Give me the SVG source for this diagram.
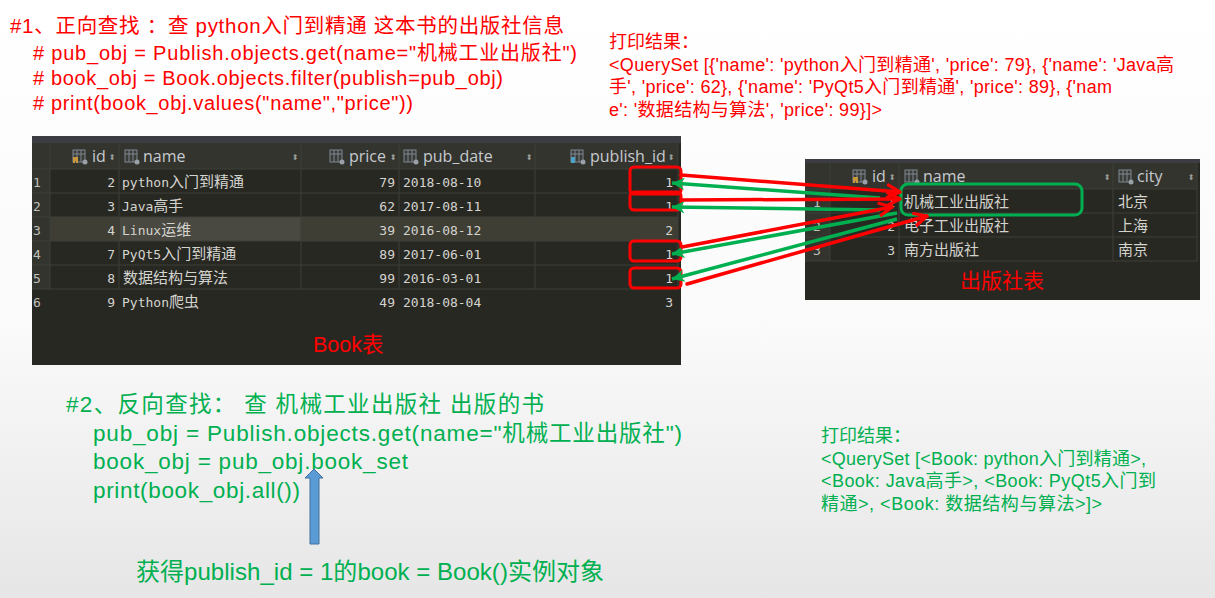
<svg xmlns="http://www.w3.org/2000/svg" width="1215" height="598" viewBox="0 0 1215 598">
<style>
.r{fill:#ff0000;font-family:"Liberation Sans","Noto Sans CJK SC",sans-serif}
.g{fill:#00b050;font-family:"Liberation Sans","Noto Sans CJK SC",sans-serif}
.h{fill:#c6cad0;font-family:"Open Sans","Liberation Sans",sans-serif;font-size:16px}
.c{fill:#d4d4cf;font-family:"DejaVu Sans Mono","Noto Sans CJK SC",monospace;font-size:13px}
.c tspan{font-size:15px;font-family:"Noto Sans CJK SC",sans-serif}
.e{text-anchor:end}
.n{fill:#c0c2bc}
.grid{stroke:#3d3e38;stroke-width:1;fill:none}
.ic{fill:#3a3c38;stroke:#7f8791;stroke-width:1}
.lr{stroke:#ff0000;stroke-width:3.5;fill:none;stroke-linecap:round;stroke-linejoin:round}
.lg{stroke:#00b050;stroke-width:3.5;fill:none}
.box{fill:none;stroke:#ff0000;stroke-width:3}
.so{fill:#9a9c98;font-family:"DejaVu Sans",sans-serif;font-size:8px}
</style>
<defs>
<linearGradient id="bg" x1="0" y1="0" x2="0" y2="1"><stop offset="0" stop-color="#ffffff"/><stop offset="0.55" stop-color="#fafafa"/><stop offset="1" stop-color="#e6e6e6"/></linearGradient>
<marker id="ar" viewBox="0 0 12 12" refX="11" refY="6" markerWidth="16" markerHeight="16" markerUnits="userSpaceOnUse" orient="auto"><path d="M1 1L11 6L1 11" fill="none" stroke="#ff0000" stroke-width="2.4"/></marker>
<marker id="ag" viewBox="0 0 12 12" refX="11" refY="6" markerWidth="15" markerHeight="15" markerUnits="userSpaceOnUse" orient="auto"><path d="M1 1L11 6L1 11L4 6Z" fill="#00b050"/></marker>
<g id="tic"><rect class="ic" x="0" y="0" width="12" height="12"/><path d="M0 4H12M4 0V12M8 0V12" stroke="#7f8791" stroke-width="1" fill="none"/><circle cx="12" cy="12" r="2.5" fill="#9aa0a8"/></g>
</defs>
<rect id="background" width="1215" height="598" fill="url(#bg)"/>

<g id="query-forward">
<text class="r" x="10" y="33" font-size="20.5" textLength="554">#1、正向查找 ：查 python入门到精通 这本书的出版社信息</text>
<text class="r" x="33" y="60" font-size="20" textLength="544">  # pub_obj = Publish.objects.get(name="机械工业出版社")</text>
<text class="r" x="33" y="85" font-size="20" textLength="470"># book_obj = Book.objects.filter(publish=pub_obj)</text>
<text class="r" x="33" y="110" font-size="20" textLength="380"># print(book_obj.values("name","price"))</text>
</g>
<g id="result-forward">
<text class="r" x="609" y="48" font-size="18">打印结果：</text>
<text class="r" x="609" y="71" font-size="18" textLength="565">&lt;QuerySet [{'name': 'python入门到精通', 'price': 79}, {'name': 'Java高</text>
<text class="r" x="609" y="93" font-size="18" textLength="503">手', 'price': 62}, {'name': 'PyQt5入门到精通', 'price': 89}, {'nam</text>
<text class="r" x="609" y="116" font-size="18" textLength="273">e': '数据结构与算法', 'price': 99}]&gt;</text>
</g>

<g id="book-table">
<rect x="32" y="136" width="649" height="229" fill="#282823"/>
<rect x="32" y="136" width="649" height="7" fill="#3b3d42"/>
<rect x="32" y="143" width="646" height="26" fill="#33342e"/>
<rect x="32" y="169" width="18" height="120" fill="#33342e"/>
<rect x="50" y="217" width="628" height="24" fill="#3e3e34"/>
<rect x="120" y="217" width="181" height="24" fill="#494942"/>
<path class="grid" d="M32 169H678M32 193H678M32 217H678M32 241H678M32 265H678M32 289H678M50 143V289M119 143V289M301 143V289M399 143V289M535 143V289M678 143V289"/>
<use href="#tic" x="73" y="150"/><use href="#tic" x="125" y="150"/><use href="#tic" x="330" y="150"/><use href="#tic" x="404" y="150"/><use href="#tic" x="571" y="150"/>
<path d="M73 157h5v6h-2v-2h-1v2h-2z" fill="#c8973a"/>
<path d="M571 157h4v6h-4z" fill="#4ca3c7"/>
<text class="h" x="92" y="162">id</text><text class="h" x="143" y="162">name</text><text class="h" x="349" y="162">price</text><text class="h" x="423" y="162">pub_date</text><text class="h" x="590" y="162">publish_id</text>
<text class="so" x="109" y="160">⬍</text><text class="so" x="292" y="160">⬍</text><text class="so" x="390" y="160">⬍</text><text class="so" x="526" y="160">⬍</text><text class="so" x="668" y="160">⬍</text>
<g class="c">
<text class="c n" x="33" y="187">1</text><text class="c n" x="33" y="211">2</text><text class="c n" x="33" y="235">3</text><text class="c n" x="33" y="259">4</text><text class="c n" x="33" y="283">5</text><text class="c n" x="33" y="307">6</text>
<text class="c e" x="115" y="187">2</text><text class="c e" x="115" y="211">3</text><text class="c e" x="115" y="235">4</text><text class="c e" x="115" y="259">7</text><text class="c e" x="115" y="283">8</text><text class="c e" x="115" y="307">9</text>
<text class="c" x="122" y="187">python<tspan>入门到精通</tspan></text>
<text class="c" x="122" y="211">Java<tspan>高手</tspan></text>
<text class="c" x="122" y="235">Linux<tspan>运维</tspan></text>
<text class="c" x="122" y="259">PyQt5<tspan>入门到精通</tspan></text>
<text class="c" x="123" y="283"><tspan>数据结构与算法</tspan></text>
<text class="c" x="122" y="307">Python<tspan>爬虫</tspan></text>
<text class="c e" x="395" y="187">79</text><text class="c e" x="395" y="211">62</text><text class="c e" x="395" y="235">39</text><text class="c e" x="395" y="259">89</text><text class="c e" x="395" y="283">99</text><text class="c e" x="395" y="307">49</text>
<text class="c" x="403" y="187">2018-08-10</text><text class="c" x="403" y="211">2017-08-11</text><text class="c" x="403" y="235">2016-08-12</text><text class="c" x="403" y="259">2017-06-01</text><text class="c" x="403" y="283">2016-03-01</text><text class="c" x="403" y="307">2018-08-04</text>
<text class="c e" x="673" y="187">1</text><text class="c e" x="673" y="211">1</text><text class="c e" x="673" y="235">2</text><text class="c e" x="673" y="259">1</text><text class="c e" x="673" y="283">1</text><text class="c e" x="673" y="307">3</text>
</g>
<text class="r" x="313" y="352" font-size="21.5">Book表</text>
</g>

<g id="publish-table">
<rect x="805" y="159" width="395" height="141" fill="#282823"/>
<rect x="805" y="159" width="395" height="4" fill="#3b3d42"/>
<rect x="805" y="163" width="392" height="26" fill="#33342e"/>
<rect x="805" y="189" width="25" height="72" fill="#33342e"/>
<path class="grid" d="M805 189H1197M805 213H1197M805 237H1197M805 261H1197M830 163V261M899 163V261M1113 163V261M1197 163V261"/>
<use href="#tic" x="853" y="170"/><use href="#tic" x="905" y="170"/><use href="#tic" x="1119" y="170"/>
<path d="M853 177h5v6h-2v-2h-1v2h-2z" fill="#c8973a"/>
<text class="h" x="872" y="182">id</text><text class="h" x="923" y="182">name</text><text class="h" x="1137" y="182">city</text>
<text class="so" x="889" y="180">⬍</text><text class="so" x="1104" y="180">⬍</text><text class="so" x="1188" y="180">⬍</text>
<text class="c n" x="813" y="207">1</text><text class="c n" x="813" y="231">2</text><text class="c n" x="813" y="255">3</text>
<text class="c e" x="895" y="207">1</text><text class="c e" x="895" y="231">2</text><text class="c e" x="895" y="255">3</text>
<text class="c" x="904" y="207"><tspan>机械工业出版社</tspan></text><text class="c" x="904" y="231"><tspan>电子工业出版社</tspan></text><text class="c" x="904" y="255"><tspan>南方出版社</tspan></text>
<text class="c" x="1118" y="207"><tspan>北京</tspan></text><text class="c" x="1118" y="231"><tspan>上海</tspan></text><text class="c" x="1118" y="255"><tspan>南京</tspan></text>
<text class="r" x="960" y="288" font-size="21">出版社表</text>
</g>

<g id="highlights">
<rect class="box" x="630" y="167" width="51" height="27" rx="4"/>
<rect class="box" x="630" y="192" width="51" height="18" rx="4"/>
<rect class="box" x="630" y="241" width="51" height="20" rx="4"/>
<rect class="box" x="630" y="268" width="51" height="20" rx="4"/>
<rect x="901" y="184" width="181" height="31" rx="7" fill="none" stroke="#00b050" stroke-width="3"/>
</g>

<g id="connectors">
<line class="lg" x1="880" y1="198" x2="672" y2="183" marker-end="url(#ag)"/>
<line class="lg" x1="880" y1="210" x2="672" y2="207" marker-end="url(#ag)"/>
<line class="lg" x1="897" y1="213" x2="672" y2="254" marker-end="url(#ag)"/>
<line class="lg" x1="897" y1="219" x2="672" y2="279" marker-end="url(#ag)"/>
<line class="lr" x1="681" y1="175" x2="900" y2="192" marker-end="url(#ar)"/>
<line class="lr" x1="682" y1="200" x2="900" y2="199" marker-end="url(#ar)"/>
<line class="lr" x1="682" y1="247" x2="892" y2="207" marker-end="url(#ar)"/>
<line class="lr" x1="687" y1="284" x2="927" y2="216" marker-end="url(#ar)"/>
<path id="up-arrow" d="M310 544V478H305L314 469L323 478H319V544Z" fill="#5b9bd5" stroke="#41719c" stroke-width="1"/>
</g>

<g id="query-reverse">
<text class="g" x="66" y="412" font-size="22.5" textLength="478">#2、反向查找： 查 机械工业出版社 出版的书</text>
<text class="g" x="93" y="441" font-size="22.5" textLength="589">pub_obj = Publish.objects.get(name="机械工业出版社")</text>
<text class="g" x="93" y="469" font-size="22.5" textLength="315">book_obj = pub_obj.book_set</text>
<text class="g" x="93" y="498" font-size="22.5" textLength="207">print(book_obj.all())</text>
</g>
<g id="result-reverse">
<text class="g" x="821" y="442" font-size="18">打印结果：</text>
<text class="g" x="821" y="465" font-size="18" textLength="325">&lt;QuerySet [&lt;Book: python入门到精通&gt;,</text>
<text class="g" x="821" y="487" font-size="18" textLength="335">&lt;Book: Java高手&gt;, &lt;Book: PyQt5入门到</text>
<text class="g" x="821" y="510" font-size="18" textLength="281">精通&gt;, &lt;Book: 数据结构与算法&gt;]&gt;</text>
</g>
<text id="note" class="g" x="136" y="580" font-size="24" textLength="468">获得publish_id = 1的book = Book()实例对象</text>
</svg>
